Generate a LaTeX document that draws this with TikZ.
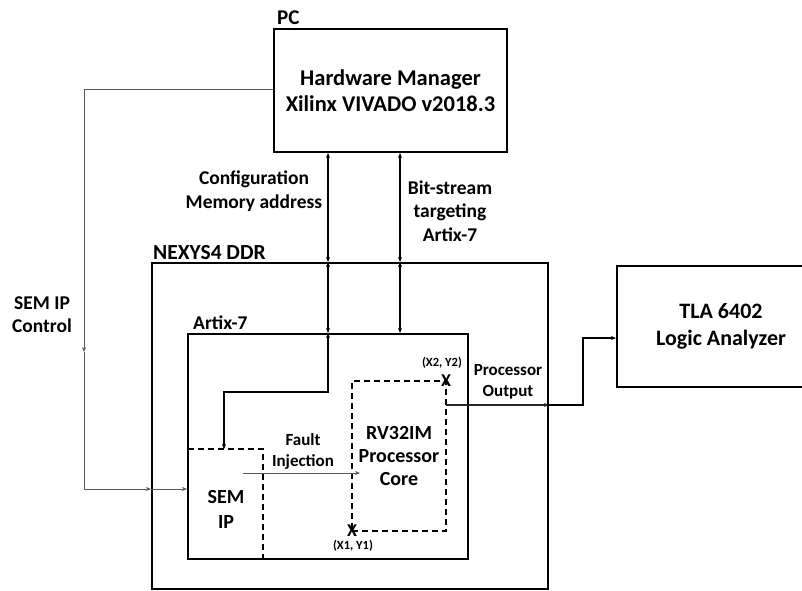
\documentclass[tikz,border=0pt]{standalone}
\usepackage{fontspec}
\setmainfont{Carlito}
\usetikzlibrary{arrows.meta}
\tikzset{
  box/.style={draw, line width=2pt, rectangle, inner sep=0pt, align=center},
  dbox/.style={draw, line width=1.6pt, dash pattern=on 6pt off 4pt, rectangle, inner sep=0pt, align=center},
  txt/.style={inner sep=0pt, align=center, font=\bfseries},
  conn/.style={line width=1.4pt, black, -{Stealth[length=5pt,width=4pt]}},
  biconn/.style={line width=1.4pt, black, {Stealth[length=5pt,width=4pt]}-{Stealth[length=5pt,width=4pt]}},
  gconn/.style={line width=1pt, black!65, -{Stealth[length=5pt,width=4pt]}},
  thick conn/.style={line width=2pt, black, -{Stealth[length=5pt,width=4pt]}},
}
\newcommand{\fsz}[2]{\fontsize{#1}{#2}\selectfont\bfseries}
\begin{document}
\begin{tikzpicture}[x=1pt,y=-1pt]
\useasboundingbox (0,0) rectangle (802,590);
\clip (0,0) rectangle (802,590);
\fill[white] (0,0) rectangle (802,590);

% boxes
\node[box, minimum width=233, minimum height=123, font=\fsz{22.5}{26}] (pc) at (390.5,90.5) {Hardware Manager\\Xilinx VIVADO v2018.3};
\node[box, minimum width=396, minimum height=326] (nexys) at (350,426) {};
\node[box, minimum width=280, minimum height=225] (artix) at (328,446.5) {};
\node[dbox, minimum width=94, minimum height=150, font=\fsz{20}{23}] (rv) at (399,456) {RV32IM\\Processor\\Core};
\node[box, minimum width=208, minimum height=121, font=\fsz{22}{27}] (tla) at (721,326.5) {TLA 6402\\Logic Analyzer};

% SEM IP dashed region
\coordinate (semtl) at (188,449);
\coordinate (semtr) at (263,449);
\coordinate (sembr) at (263,559);
\draw[line width=1.6pt, dash pattern=on 6pt off 4pt] (semtl) -- (semtr) -- (sembr);
\node[txt, font=\fsz{20}{25}] (sem) at (226,509.5) {SEM\\IP};

% titles
\node[txt, anchor=west, font=\fsz{21}{25}] (pcl) at (277,18) {PC};
\node[txt, anchor=west, font=\fsz{21.5}{25}] (nexl) at (153,253) {NEXYS4 DDR};
\node[txt, anchor=west, font=\fsz{19.5}{23}] (artl) at (193,323) {Artix-7};

% labels
\node[txt, font=\fsz{19.5}{24}] (cfg) at (254,191) {Configuration\\Memory address};
\node[txt, font=\fsz{19.5}{23.5}] (bit) at (450,211) {Bit-stream\\targeting\\Artix-7};
\node[txt, font=\fsz{19.5}{23}] (semc) at (42,314.5) {SEM IP\\Control};
\node[txt, font=\fsz{17}{21}] (pout) at (508,381.5) {Processor\\Output};
\node[txt, font=\fsz{17}{21}] (fault) at (303,451.5) {Fault\\Injection};

% coordinate marks
\node[txt, font=\fsz{18}{20}] (x2) at (446,381) {X};
\node[txt, font=\fsz{18}{20}] (x1) at (352,531) {X};
\node[txt, font=\fsz{12.5}{14}] (x2l) at (442,363) {(X2, Y2)};
\node[txt, font=\fsz{12.5}{14}] (x1l) at (353,546) {(X1, Y1)};

% vertical links
\coordinate (ca) at (328,0);
\coordinate (cb) at (400,0);
\draw[biconn] (pc.south -| ca) -- (nexys.north -| ca);
\draw[biconn] (pc.south -| cb) -- (nexys.north -| cb);
\draw[biconn] (nexys.north -| ca) -- (artix.north -| ca);
\draw[biconn] (nexys.north -| cb) -- (artix.north -| cb);
\coordinate (k1) at (328,392);
\coordinate (k2) at (224,392);
\draw[biconn] (artix.north -| ca) -- (k1) -- (k2) -- (k2 |- semtl);

% SEM IP control loop
\coordinate (l1) at (84,89);
\coordinate (l2) at (84,352);
\coordinate (l3) at (84,489);
\draw[gconn] ([yshift=1.5pt]pc.west) -- (l1) -- (l2);
\draw[gconn] (l2) -- (l3) -- (nexys.west |- l3);
\draw[gconn] (nexys.west |- l3) -- (artix.west |- l3);

% fault injection
\coordinate (f1) at (243,473);
\coordinate (f2) at (360,473);
\draw[gconn, line width=0.9pt] (f1) -- (f2);

% processor output
\coordinate (p1) at (446,405);
\coordinate (p2) at (583,405);
\coordinate (p3) at (583,338);
\draw[conn, black!85] (p1) -- (nexys.east |- p1);
\draw[thick conn] (nexys.east |- p1) -- (p2) -- (p3) -- (tla.west |- p3);
\end{tikzpicture}
\end{document}
